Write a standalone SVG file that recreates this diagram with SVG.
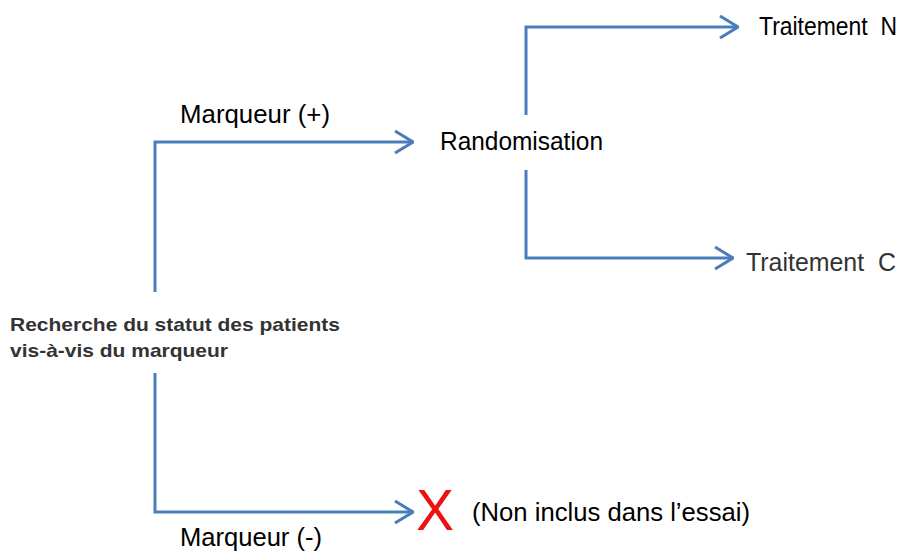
<svg xmlns="http://www.w3.org/2000/svg" width="910" height="551" viewBox="0 0 910 551">
<defs>
<style>
.c{fill:none;stroke:#4a7ebb;stroke-width:3;stroke-linejoin:miter}
.t{font-family:"Liberation Sans",Arial,sans-serif;font-size:25px;fill:#000}
.b{font-family:"Liberation Sans",Arial,sans-serif;font-size:19px;font-weight:bold;fill:#333}
</style>
<marker id="ah" viewBox="0 0 20 24" refX="19" refY="12" markerWidth="20" markerHeight="24" markerUnits="userSpaceOnUse" orient="auto">
<polyline points="1,1 19,12 1,23" fill="none" stroke="#4a7ebb" stroke-width="3"/>
</marker>
</defs>
<rect width="910" height="551" fill="#fff"/>
<g id="connectors">
<polyline class="c" points="155,292 155,142 413,142" marker-end="url(#ah)"/>
<polyline class="c" points="155,373 155,512 413,512" marker-end="url(#ah)"/>
<polyline class="c" points="526,115 526,27 738,27" marker-end="url(#ah)"/>
<polyline class="c" points="526,170 526,258 733,258" marker-end="url(#ah)"/>
</g>
<g id="label-plus"><text class="t" x="180" y="123" textLength="150" lengthAdjust="spacingAndGlyphs">Marqueur (+)</text></g>
<g id="label-minus"><text class="t" x="180" y="546" textLength="142" lengthAdjust="spacingAndGlyphs">Marqueur (-)</text></g>
<g id="randomisation"><text class="t" x="440" y="150" textLength="163" lengthAdjust="spacingAndGlyphs">Randomisation</text></g>
<g id="traitement-n"><text class="t" x="759" y="35" xml:space="preserve" textLength="138" lengthAdjust="spacingAndGlyphs">Traitement  N</text></g>
<g id="traitement-c"><text class="t" x="746" y="271" xml:space="preserve" textLength="150" lengthAdjust="spacingAndGlyphs" style="fill:#333">Traitement  C</text></g>
<g id="recherche"><text class="b" x="10" y="331" textLength="330" lengthAdjust="spacingAndGlyphs">Recherche du statut des patients</text><text class="b" x="10" y="357" textLength="218" lengthAdjust="spacingAndGlyphs">vis-à-vis du marqueur</text></g>
<g id="exclus"><text x="416" y="530" style="font-family:'Liberation Sans',Arial,sans-serif;font-size:57px;fill:#ee1111">X</text><text class="t" x="472" y="521" textLength="278" lengthAdjust="spacingAndGlyphs">(Non inclus dans l’essai)</text></g>
</svg>
